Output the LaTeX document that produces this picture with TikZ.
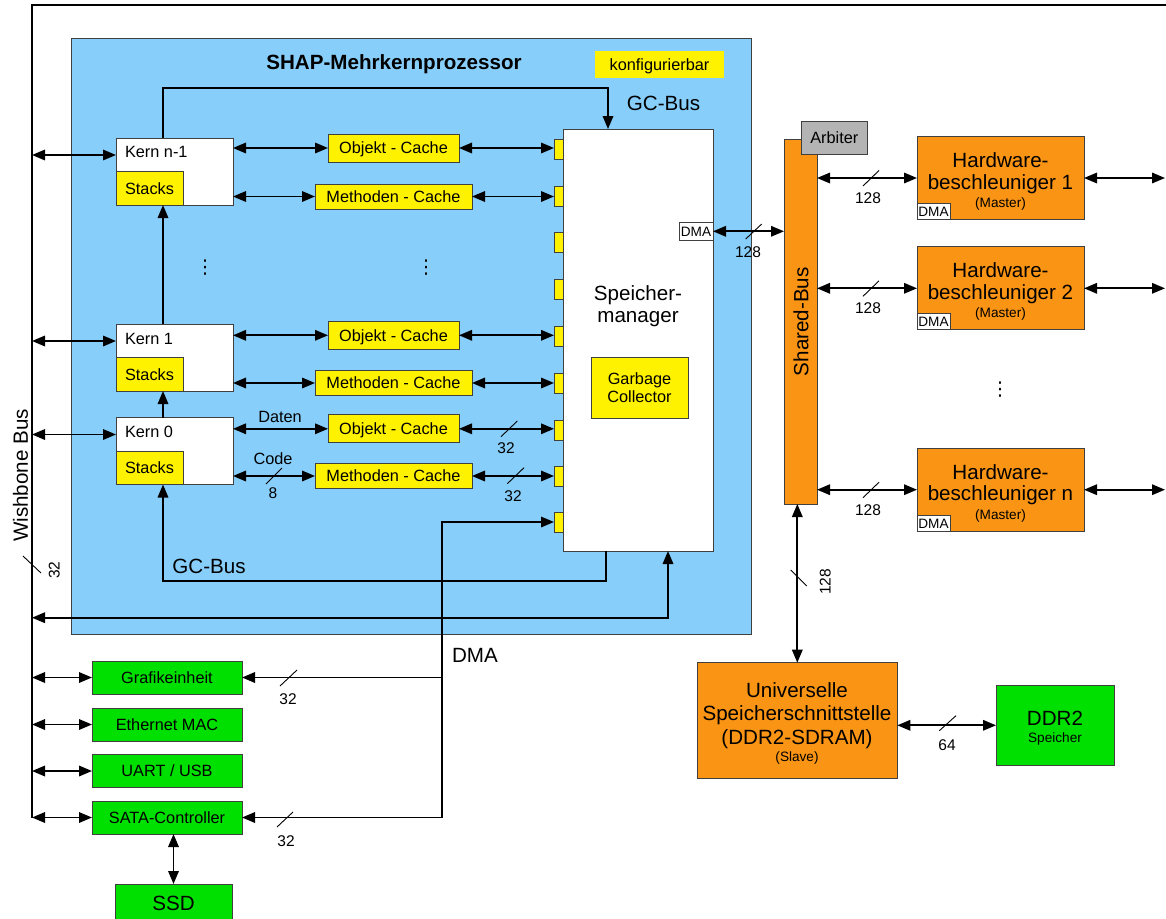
\documentclass[tikz,border=0pt]{standalone}
\usepackage{fontspec}
\setmainfont{Liberation Sans}
\newfontfamily\dotsfont{DejaVu Sans}
\usetikzlibrary{arrows.meta,calc}

\definecolor{procblue}{RGB}{135,206,250}
\definecolor{hworange}{RGB}{250,148,20}
\definecolor{iogreen}{RGB}{0,224,0}
\definecolor{arbgray}{RGB}{180,180,180}
\definecolor{edgegray}{RGB}{64,64,64}

\tikzset{
  every node/.style={inner sep=0pt, outer sep=0pt},
  bx/.style={draw=edgegray, line width=0.9pt},
  fA/.style={font=\fontsize{16.3}{19}\selectfont, text height=11.7pt, text depth=0pt},
  fB/.style={font=\fontsize{20.6}{24}\selectfont, text height=14.8pt, text depth=0pt},
  fT/.style={font=\bfseries\fontsize{20.6}{24}\selectfont, text height=14.8pt, text depth=0pt},
  fN/.style={font=\fontsize{15.5}{18}\selectfont, text height=11.1pt, text depth=0pt},
  fS/.style={font=\fontsize{13.6}{16}\selectfont, text height=9.8pt, text depth=0pt},
  vdot/.style={font=\dotsfont\fontsize{19}{21}\selectfont},
  tip/.tip={Triangle[length=13pt,width=10.5pt]},
  link/.style={line width=1.7pt, -tip},
  dbl/.style={line width=1.7pt, tip-tip},
  plain/.style={line width=1.7pt},
  tick/.style={line width=0.9pt},
}

\begin{document}
\begin{tikzpicture}[x=1pt,y=-1pt]
\useasboundingbox (0,0) rectangle (1166,918);

% Wishbone bus (left) and its top branch
\coordinate (wb) at (32,5);
\draw[plain] (1166,5) -- (wb) -- (32,818);
\node[fB, rotate=90] (wbT) at (20.5,475.5) {Wishbone Bus};
\draw[tick] (23,556) -- (41,573);
\node[fN, rotate=90] (wbN) at (54,570) {32};

% SHAP multicore processor
\node[bx, fill=procblue, minimum width=680pt, minimum height=596pt] (proc) at (411,336) {};
\node[fT] (procT) at (394,62) {SHAP-Mehrkernprozessor};
\node[fA, fill=yellow, minimum width=129pt, minimum height=27pt] (cfg) at (659.5,64.5) {konfigurierbar};

% cores
\node[bx, fill=white, minimum width=117pt, minimum height=67pt] (kn1) at (174.5,171.5) {};
\node[bx, fill=yellow, minimum width=67pt, minimum height=33.5pt, fA] (sn1) at (149.5,188.25) {Stacks};
\node[fA, anchor=west] (kn1T) at (125,152) {Kern n-1};

\node[bx, fill=white, minimum width=117pt, minimum height=67pt] (k1) at (174.5,357.5) {};
\node[bx, fill=yellow, minimum width=67pt, minimum height=33.5pt, fA] (s1) at (149.5,374.25) {Stacks};
\node[fA, anchor=west] (k1T) at (125,339) {Kern 1};

\node[bx, fill=white, minimum width=117pt, minimum height=67pt] (k0) at (174.5,451) {};
\node[bx, fill=yellow, minimum width=67pt, minimum height=33.5pt, fA] (s0) at (149.5,467.75) {Stacks};
\node[fA, anchor=west] (k0T) at (125,432) {Kern 0};

% caches
\tikzset{ocache/.style={bx, fill=yellow, minimum width=131pt, minimum height=28pt, fA},
         mcache/.style={bx, fill=yellow, minimum width=157pt, minimum height=25pt, fA}}
\node[ocache] (oN) at (393.5,148) {Objekt - Cache};
\node[mcache] (mN) at (393.5,196.5) {Methoden - Cache};
\node[ocache] (o1) at (393.5,335.3) {Objekt - Cache};
\node[mcache] (m1) at (393.5,383) {Methoden - Cache};
\node[ocache] (o0) at (393.5,428.8) {Objekt - Cache};
\node[mcache] (m0) at (393.5,476) {Methoden - Cache};

% memory manager with its ports
\node[bx, fill=white, minimum width=150pt, minimum height=422pt] (sm) at (638,340) {};
\foreach \i/\y in {1/149,2/196,3/242,4/289,5/336,6/383,7/430,8/476,9/522}
  \node[bx, fill=yellow, minimum width=9pt, minimum height=20pt] (p\i) at (558.5,\y) {};
\node[fB] (smT1) at (638,293) {Speicher-};
\node[fB] (smT2) at (638,315) {manager};
\node[bx, fill=yellow, minimum width=97pt, minimum height=61pt] (gc) at (639.5,387.5) {};
\node[fA] (gcT1) at (639.5,378.3) {Garbage};
\node[fA] (gcT2) at (639.5,396.7) {Collector};
\node[bx, fill=white, minimum width=34pt, minimum height=17.5pt, fS] (smdma) at (696,231.3) {DMA};

% dots between core rows
\node[vdot] (dotA) at (205,268) {⋮};
\node[vdot] (dotB) at (426,268) {⋮};

% core <-> wishbone
\coordinate (kn1w) at ($(kn1.north west)+(0,17)$);
\coordinate (k1w) at ($(k1.north west)+(0,17)$);
\coordinate (k0w) at ($(k0.north west)+(0,17)$);
\draw[dbl] (kn1w -| wb) -- (kn1w);
\draw[dbl] (k1w -| wb) -- (k1w);
\draw[dbl] (k0w -| wb) -- (k0w);

% core <-> cache <-> port
\draw[dbl] (oN.west -| kn1.east) -- (oN.west);
\draw[dbl] (mN.west -| kn1.east) -- (mN.west);
\draw[dbl] (o1.west -| k1.east) -- (o1.west);
\draw[dbl] (m1.west -| k1.east) -- (m1.west);
\draw[dbl] (o0.west -| k0.east) -- (o0.west);
\draw[dbl] (m0.west -| k0.east) -- (m0.west);
\draw[dbl] (oN.east) -- (oN.east -| p1.west);
\draw[dbl] (mN.east) -- (mN.east -| p2.west);
\draw[dbl] (o1.east) -- (o1.east -| p5.west);
\draw[dbl] (m1.east) -- (m1.east -| p6.west);
\draw[dbl] (o0.east) -- (o0.east -| p7.west);
\draw[dbl] (m0.east) -- (m0.east -| p8.west);

\node[fA] (datT) at (280,416.7) {Daten};
\node[fA] (codT) at (273,459) {Code};
\draw[tick] (266,484) -- (282,468);
\node[fN] (codN) at (273,493) {8};
\draw[tick] (501,436.7) -- (517.3,421);
\node[fN] (o0N) at (506,448) {32};
\draw[tick] (507.3,483.7) -- (524,467.7);
\node[fN] (m0N) at (513,496) {32};

% GC bus
\coordinate (gta) at (163,88);
\coordinate (gtb) at (608,88);
\draw[link] (kn1.north -| gta) -- (gta) -- (gtb) -- (sm.north -| gtb);
\node[fB] (gcbT1) at (663.5,103) {GC-Bus};
\draw[link] (k0.north -| gta) -- (k1.south -| gta);
\draw[link] (k1.north -| gta) -- (kn1.south -| gta);
\coordinate (gca) at (163,581);
\coordinate (gcs) at (606,581);
\draw[link] (sm.south -| gcs) -- (gcs) -- (gca) -- (k0.south -| gca);
\node[fB] (gcbT2) at (209,566.5) {GC-Bus};
\coordinate (gcr) at (668,617.7);
\draw[dbl] (gcr -| wb) -- (gcr) -- (gcr |- sm.south);

% peripherals on the wishbone bus
\tikzset{io/.style={bx, fill=iogreen, minimum width=150pt, minimum height=33pt, fA}}
\node[io] (gfx) at (167,677.5) {Grafikeinheit};
\node[io] (eth) at (167,724.5) {Ethernet MAC};
\node[io] (uart) at (167,771) {UART / USB};
\node[io] (sata) at (167,817.5) {SATA-Controller};
\node[bx, fill=iogreen, minimum width=117pt, minimum height=38pt, fB] (ssd) at (173.5,903) {SSD};
\foreach \d in {gfx,eth,uart,sata}
  \draw[dbl] (\d.west -| wb) -- (\d.west);
\draw[dbl] (ssd.north) -- (ssd.north |- sata.south);

% DMA path from the memory manager to the peripherals
\coordinate (dmax) at (442,522);
\draw[dbl] (sata.east) -- (sata.east -| dmax) -- (dmax) -- (p9.west);
\draw[link] (gfx.east -| dmax) -- (gfx.east);
\node[fB] (dmaT) at (475,655) {DMA};
\draw[tick] (280,686) -- (297,670);
\node[fN] (gfxN) at (288,699) {32};
\draw[tick] (277,827) -- (293,812);
\node[fN] (sataN) at (286,841) {32};

% shared bus and arbiter
\node[bx, fill=hworange, minimum width=33pt, minimum height=365pt] (sb) at (800.5,321.5) {};
\node[fB, rotate=90] (sbT) at (801,321.7) {Shared-Bus};
\node[bx, fill=arbgray, minimum width=66.7pt, minimum height=32.3pt, fA] (arb) at (834.3,137.8) {Arbiter};
\draw[dbl] (smdma.east) -- (smdma.east -| sb.west);
\draw[tick] (745.7,239) -- (761.7,224);
\node[fN] (smN) at (748,252) {128};

% hardware accelerators
\coordinate (rim) at (1165,0);
\foreach \n/\y/\t in {1/178/1, 2/288.3/2, n/489.7/n} {
  \node[bx, fill=hworange, minimum width=167pt, minimum height=83pt] (hw\n) at (1000.5,\y) {};
  \node[fB] (hwa\n) at ([yshift=18pt]hw\n.center) {Hardware-};
  \node[fB] (hwb\n) at ([yshift=-3.7pt]hw\n.center) {beschleuniger \t};
  \node[fS] (hwm\n) at ([yshift=-24.7pt]hw\n.center) {(Master)};
  \node[bx, fill=white, minimum width=33pt, minimum height=16pt, anchor=south west, fS] (hwd\n) at (hw\n.south west) {DMA};
  \draw[dbl] (hw\n.west -| sb.east) -- (hw\n.west);
  \draw[dbl] (hw\n.east) -- (hw\n.east -| rim);
  \draw[tick] (hw\n.west) ++(-54,8) -- ++(16,-15.5);
  \node[fN] (hwN\n) at ([xshift=-49pt,yshift=-20pt]hw\n.west) {128};
}
\node[vdot] (dotC) at (1000,390) {⋮};

% memory interface and DDR2
\node[bx, fill=hworange, minimum width=200pt, minimum height=116pt] (uni) at (797.3,720.7) {};
\node[fB] (uniT1) at (797,690) {Universelle};
\node[fB] (uniT2) at (797,712.7) {Speicherschnittstelle};
\node[fB] (uniT3) at (797,737.2) {(DDR2-SDRAM)};
\node[fS] (uniT4) at (797,756.7) {(Slave)};
\draw[dbl] (uni.north) -- (uni.north |- sb.south);
\draw[tick] (790.7,570) -- (806.7,586);
\node[fN, rotate=90] (uniN) at (825,581.7) {128};

\node[bx, fill=iogreen, minimum width=118pt, minimum height=80pt] (ddr) at (1055,725.3) {};
\node[fB] (ddrT1) at (1055,718.3) {DDR2};
\node[fS] (ddrT2) at (1055,737.7) {Speicher};
\draw[dbl] (ddr.west -| uni.east) -- (ddr.west);
\draw[tick] (939.3,730.7) -- (956,715.7);
\node[fN] (ddrN) at (947,745) {64};
\end{tikzpicture}
\end{document}
